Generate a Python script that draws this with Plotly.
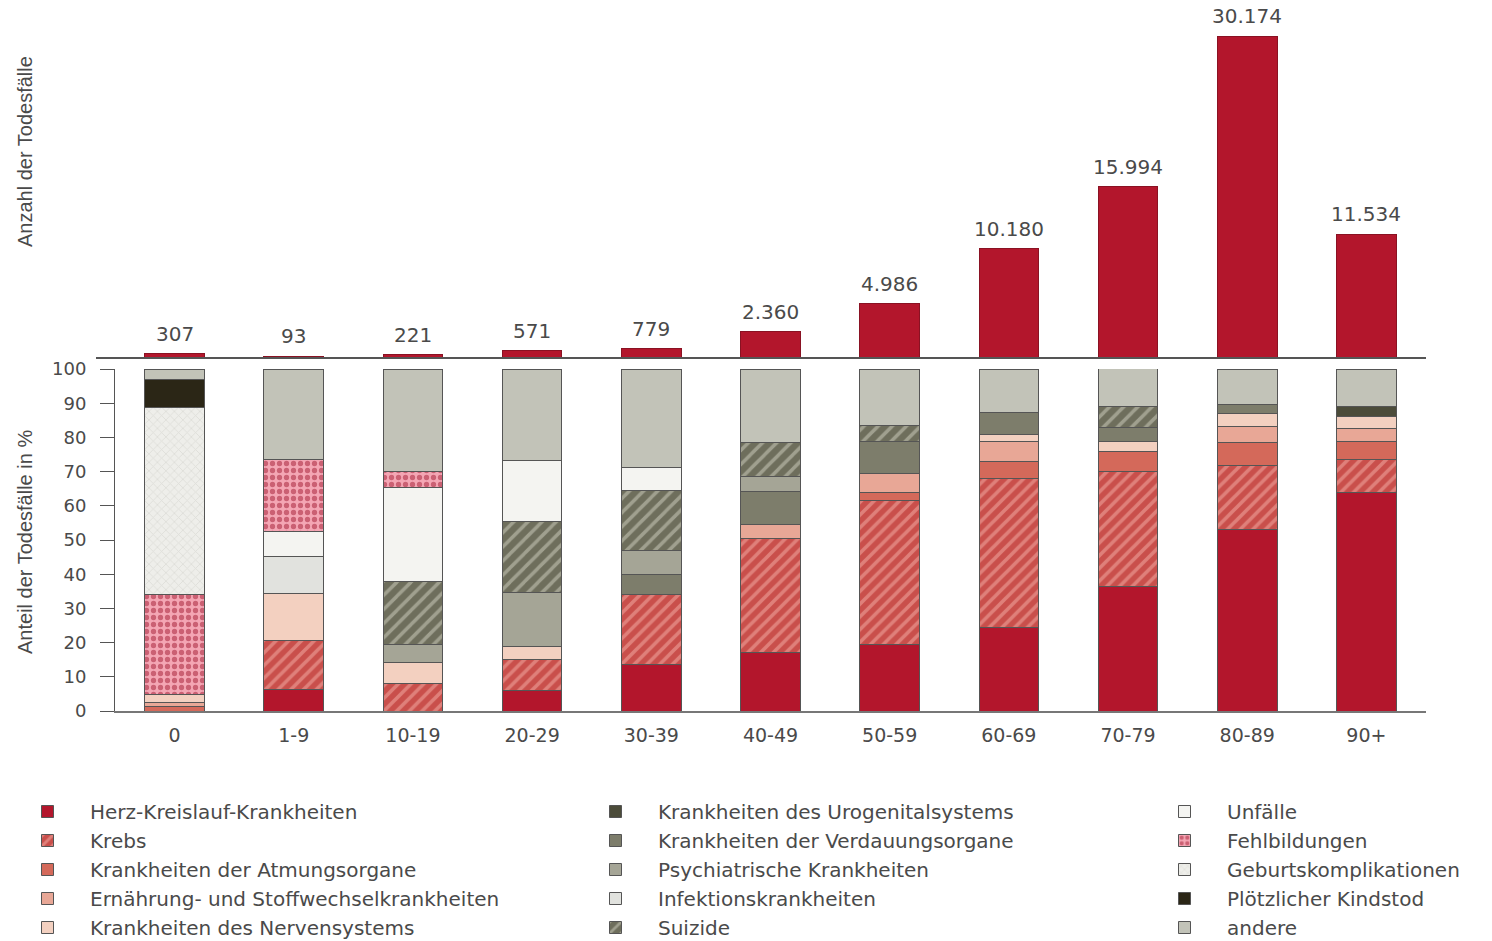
import plotly.graph_objects as go

W, H = 1492, 941

groups = ["0", "1-9", "10-19", "20-29", "30-39", "40-49", "50-59", "60-69", "70-79", "80-89", "90+"]

counts = [307, 93, 221, 571, 779, 2360, 4986, 10180, 15994, 30174, 11534]

herz        = [0, 6.4, 0, 6.1, 13.7, 17.0, 19.3, 24.3, 36.4, 53.2, 63.9]
krebs       = [0, 14.1, 7.9, 9.1, 20.5, 33.5, 42.2, 43.8, 33.6, 18.5, 9.5]
atmung      = [1.2, 0, 0, 0, 0, 0, 2.3, 5.0, 6.0, 6.8, 5.5]
ernaehrung  = [1.3, 0, 0, 0, 0, 3.9, 5.7, 5.8, 0, 4.7, 3.8]
nerven      = [2.2, 13.9, 6.2, 3.8, 0, 0, 0, 1.9, 2.9, 3.9, 3.4]
urogenital  = [0, 0, 0, 0, 0, 0, 0, 0, 0, 0, 2.9]
verdauung   = [0, 0, 0, 0, 5.7, 9.9, 9.2, 6.4, 4.1, 2.6, 0]
psych       = [0, 0, 5.4, 15.7, 6.9, 4.2, 0, 0, 0, 0, 0]
infektion   = [0, 10.7, 0, 0, 0, 0, 0, 0, 0, 0, 0]
suizide     = [0, 0, 18.3, 20.7, 17.8, 9.9, 4.9, 0, 6.0, 0, 0]
unfaelle    = [0, 7.5, 27.5, 17.8, 6.6, 0, 0, 0, 0, 0, 0]
fehlbildung = [29.4, 20.8, 4.7, 0, 0, 0, 0, 0, 0, 0, 0]
geburt      = [54.6, 0, 0, 0, 0, 0, 0, 0, 0, 0, 0]
kindstod    = [8.3, 0, 0, 0, 0, 0, 0, 0, 0, 0, 0]
andere      = [3.0, 26.6, 30.0, 26.8, 28.8, 21.6, 16.4, 12.8, 11.2, 10.3, 11.0]

series = [
    ("Herz-Kreislauf-Krankheiten", herz, "#b3162c", None),
    ("Krebs", krebs, "#c94f4b", ("/", "#f6b2aa", 9, 0.4)),
    ("Krankheiten der Atmungsorgane", atmung, "#d4695a", None),
    ("Ernährung- und Stoffwechselkrankheiten", ernaehrung, "#e8a796", None),
    ("Krankheiten des Nervensystems", nerven, "#f3d0c0", None),
    ("Krankheiten des Urogenitalsystems", urogenital, "#4c4c3a", None),
    ("Krankheiten der Verdauungsorgane", verdauung, "#7d7d6b", None),
    ("Psychiatrische Krankheiten", psych, "#a5a596", None),
    ("Infektionskrankheiten", infektion, "#e1e2de", None),
    ("Suizide", suizide, "#6e6e5c", ("/", "#d2d2c2", 10, 0.35)),
    ("Unfälle", unfaelle, "#f4f4f1", None),
    ("Fehlbildungen", fehlbildung, "#f4a6b4", (".", "#a11a32", 7, 0.45)),
    ("Geburtskomplikationen", geburt, "#eeeeea", ("x", "#cdcdc6", 6, 0.25)),
    ("Plötzlicher Kindstod", kindstod, "#2b2616", None),
    ("andere", andere, "#c2c3b8", None),
]

FONT_H = "DejaVu Sans"
FONT_V = "Liberation Sans Narrow, Liberation Sans"
TXT = "#4a4a4a"

fig = go.Figure()

legend_names = ["legend", "legend2", "legend3"]
for i, (name, vals, color, pat) in enumerate(series):
    marker = dict(color=color, line=dict(color="#555555", width=1))
    if pat:
        shape, fg, size, sol = pat
        marker["pattern"] = dict(shape=shape, fgcolor=fg, size=size, solidity=sol, fillmode="overlay")
    fig.add_trace(go.Bar(
        x=groups, y=[v if v > 0 else None for v in vals], name=name,
        marker=marker, legend=legend_names[i // 5],
        xaxis="x", yaxis="y", hoverinfo="name+y",
    ))

fig.add_trace(go.Bar(
    x=groups, y=counts, showlegend=False,
    marker=dict(color="#b3162c", line=dict(color="#8a1223", width=1)),
    xaxis="x2", yaxis="y2", hoverinfo="x+y",
))

for g, c in zip(groups, counts):
    fig.add_annotation(
        x=g, y=c, xref="x2", yref="y2", text=f"{c:,}".replace(",", "."),
        showarrow=False, yanchor="bottom", yshift=6,
        font=dict(family=FONT_H, size=20, color=TXT),
    )

# axis titles
fig.add_annotation(x=25 / W, y=1 - 152 / H, xref="paper", yref="paper",
                   xanchor="center", yanchor="middle",
                   text="Anzahl der Todesfälle", textangle=-90, showarrow=False,
                   font=dict(family=FONT_V, size=20, color=TXT))
fig.add_annotation(x=25 / W, y=1 - 542 / H, xref="paper", yref="paper",
                   xanchor="center", yanchor="middle",
                   text="Anteil der Todesfälle in %", textangle=-90, showarrow=False,
                   font=dict(family=FONT_V, size=20, color=TXT))

x_px = (115, 1426)
y_bottom_px = (711, 369)
top_base_px = 357
top_bar_px = 36
ymax_top = max(counts) * (top_base_px - 0) / (top_base_px - top_bar_px)

leg_common = dict(orientation="v", yanchor="top", xanchor="left", traceorder="normal",
                  font=dict(family=FONT_H, size=20, color=TXT), itemwidth=75,
                  bgcolor="rgba(0,0,0,0)", itemclick=False, itemdoubleclick=False)

leg_top = 1 - 792 / H

fig.update_layout(
    width=W, height=H,
    margin=dict(l=0, r=0, t=0, b=0, autoexpand=False),
    paper_bgcolor="white", plot_bgcolor="white",
    barmode="stack", bargap=0.5,
    separators=",.",
    showlegend=True,
    legend=dict(x=5 / W, y=leg_top, **leg_common),
    legend2=dict(x=573 / W, y=leg_top, **leg_common),
    legend3=dict(x=1142 / W, y=leg_top, **leg_common),
    xaxis=dict(domain=[x_px[0] / W, x_px[1] / W], range=[-0.5, 10.5], anchor="y",
               showline=True, linecolor="#777777", linewidth=1.5, ticks="",
               tickfont=dict(family=FONT_H, size=19, color=TXT), ticklabelstandoff=6,
               showgrid=False, zeroline=False, fixedrange=True),
    yaxis=dict(domain=[1 - y_bottom_px[0] / H, 1 - y_bottom_px[1] / H], range=[0, 100], anchor="x",
               tickvals=list(range(0, 101, 10)), ticks="outside", ticklen=14, tickcolor="#555555",
               showline=True, linecolor="#555555", linewidth=1,
               tickfont=dict(family=FONT_H, size=18, color=TXT), ticklabelstandoff=10,
               showgrid=False, zeroline=False, fixedrange=True),
    xaxis2=dict(domain=[96 / W, x_px[1] / W],
                range=[-0.5 - (x_px[0] - 96) / ((x_px[1] - x_px[0]) / 11), 10.5], anchor="y2",
                showline=True, linecolor="#555555", linewidth=1.5, showticklabels=False, ticks="",
                showgrid=False, zeroline=False, fixedrange=True),
    yaxis2=dict(domain=[1 - top_base_px / H, 1.0], range=[0, ymax_top], anchor="x2",
                visible=False, showgrid=False, zeroline=False, fixedrange=True),
)

fig.write_html("out.html", config={"displayModeBar": False},
               post_script="document.body.style.margin='0';")
